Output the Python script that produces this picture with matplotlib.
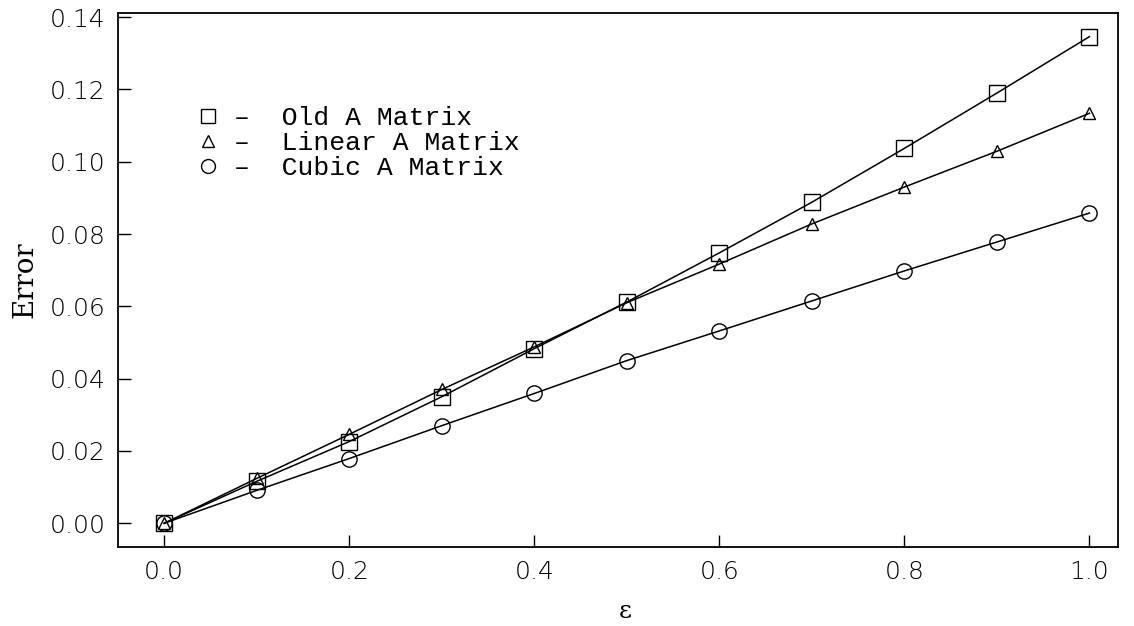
import numpy as np
import matplotlib
matplotlib.use("Agg")
import matplotlib.pyplot as plt
from matplotlib.lines import Line2D

eps = [0.0, 0.1, 0.2, 0.3, 0.4, 0.5, 0.6, 0.7, 0.8, 0.9, 1.0]
old_a = [0.0, 0.0116, 0.0226, 0.0350, 0.0483, 0.0612, 0.0748, 0.0888, 0.1037, 0.1190, 0.1346]
linear_a = [0.0, 0.0124, 0.0246, 0.0370, 0.0488, 0.0610, 0.0717, 0.0828, 0.0930, 0.1029, 0.1134]
cubic_a = [0.0, 0.0091, 0.0179, 0.0270, 0.0359, 0.0450, 0.0532, 0.0615, 0.0698, 0.0778, 0.0858]
labels = ["–  Old A Matrix", "–  Linear A Matrix", "–  Cubic A Matrix"]

fig = plt.figure(figsize=(11.34, 6.26), dpi=100)
ax = fig.add_axes([0.104, 0.126, 0.882, 0.853])

ax.plot(eps, old_a, color="black", lw=1.1, marker="s", ms=11.5, mfc="none", mec="black", mew=1.0)
ax.plot(eps, linear_a, color="black", lw=1.1, marker="^", ms=9, mfc="none", mec="black", mew=1.0)
ax.plot(eps, cubic_a, color="black", lw=1.1, marker="o", ms=11, mfc="none", mec="black", mew=1.0)

ax.set_xlim(-0.05, 1.031)
ax.set_ylim(-0.0066, 0.1411)
ax.set_xticks(np.arange(0, 1.01, 0.2))
ax.set_yticks(np.arange(0, 0.141, 0.02))
ax.set_xticklabels(["%.1f" % v for v in np.arange(0, 1.01, 0.2)])
ax.set_yticklabels(["%.2f" % v for v in np.arange(0, 0.141, 0.02)])
ax.tick_params(direction="in", length=9, width=1.0, labelsize=18, pad=9)
for lab in ax.get_xticklabels() + ax.get_yticklabels():
    lab.set_fontfamily("DejaVu Sans")
    lab.set_fontweight("light")
for s in ax.spines.values():
    s.set_linewidth(1.3)

ax.set_xlabel("ε", fontsize=18, family="DejaVu Serif", va="center")
ax.xaxis.set_label_coords(0.507, -0.12)
ax.set_ylabel("Error", fontsize=20, family="DejaVu Serif", labelpad=8)

handles = [
    Line2D([], [], ls="none", marker="s", ms=10, mfc="none", mec="black"),
    Line2D([], [], ls="none", marker="^", ms=8, mfc="none", mec="black"),
    Line2D([], [], ls="none", marker="o", ms=10, mfc="none", mec="black"),
]
ax.legend(handles, labels, loc="upper left", bbox_to_anchor=(0.066, 0.845), frameon=False,
          prop={"family": "Liberation Mono", "size": 19}, handlelength=1.0,
          handletextpad=0.5, labelspacing=0.03, borderaxespad=0)

fig.savefig("out.png", dpi=100)
